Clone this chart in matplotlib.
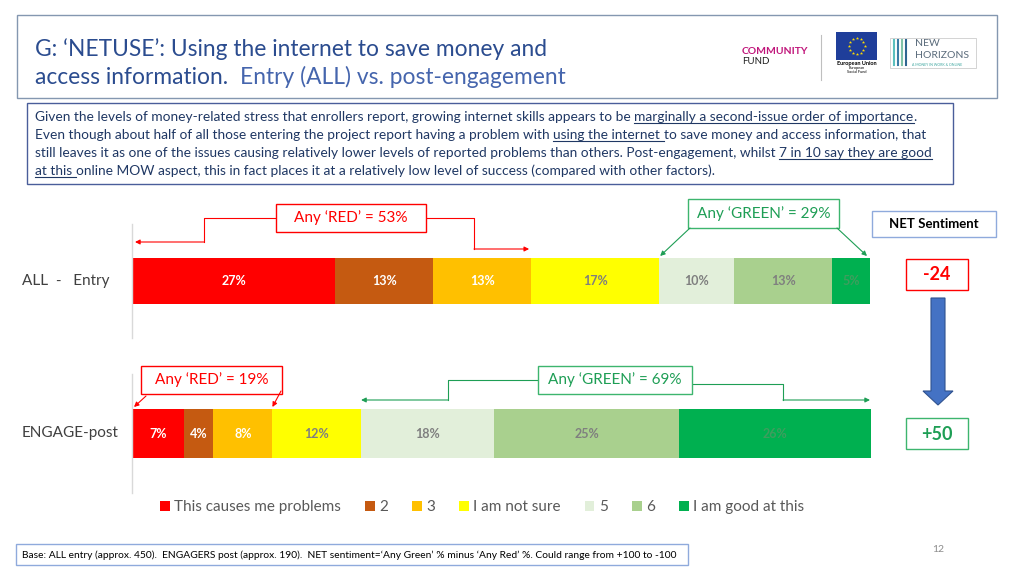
import matplotlib
matplotlib.use('Agg')
import matplotlib.pyplot as plt
from matplotlib.patches import Rectangle, Polygon, Patch
from matplotlib.font_manager import FontProperties
import numpy as np

plt.rcParams['font.family'] = ['Lato', 'DejaVu Sans']

# ---------------- data ----------------
categories = ['This causes me problems', '2', '3', 'I am not sure', '5', '6', 'I am good at this']
seg_colors = ['#FF0000', '#C55A11', '#FFC000', '#FFFF00', '#E2EFDA', '#A9D08E', '#00B050']
label_colors = ['white', 'white', 'white', '#7F7F7F', '#7F7F7F', '#7F7F7F', '#3E9E5E']
row_labels = ['ALL  -   Entry', 'ENGAGE-post']
all_entry = [27, 13, 13, 17, 10, 13, 5]
engage_post = [7, 4, 8, 12, 18, 25, 26]
any_red = [53, 19]
any_green = [29, 69]
net_sentiment = [-24, 50]

W, H = 1024, 576
fig = plt.figure(figsize=(W / 100, H / 100), dpi=100)


def add_ax(x0, y0, x1, y1):
    return fig.add_axes([x0 / W, 1 - y1 / H, (x1 - x0) / W, (y1 - y0) / H])


# ---------------- bars ----------------
bar_boxes = [(132, 224, 870, 338), (132, 374, 871, 493)]
bar_heights = [46 / 114, 49 / 119]
bar_axes = []
for bx, vals, bh in zip(bar_boxes, [all_entry, engage_post], bar_heights):
    ax = add_ax(*bx)
    v = np.array(vals, dtype=float)
    frac = v / v.sum()
    left = np.cumsum(frac) - frac
    ax.barh(0.5, frac, left=left, height=bh, color=seg_colors, edgecolor='none')
    for l, f, val, lc in zip(left, frac, vals, label_colors):
        ax.text(l + f / 2, 0.5, f'{val}%', ha='center', va='center', fontsize=9,
                fontweight='bold', color=lc)
    ax.set_xlim(0, 1)
    ax.set_ylim(0, 1)
    for s in ['top', 'right', 'bottom']:
        ax.spines[s].set_visible(False)
    ax.spines['left'].set_color('#D9D9D9')
    ax.spines['left'].set_linewidth(1)
    ax.set_xticks([])
    ax.set_yticks([])
    bar_axes.append((ax, bx, left, frac))


def px(row, f):
    bx = bar_axes[row][1]
    return bx[0] + f * (bx[2] - bx[0])


# ---------------- overlay ----------------
ov = fig.add_axes([0, 0, 1, 1])
ov.set_xlim(0, W)
ov.set_ylim(H, 0)
ov.axis('off')
renderer = fig.canvas.get_renderer()


def tw(s, fp):
    if not s:
        return 0.0
    w1 = renderer.get_text_width_height_descent('|' + s + '|', fp, False)[0]
    w0 = renderer.get_text_width_height_descent('||', fp, False)[0]
    return w1 - w0


def rich(x, y, segs, color, size, weight='normal'):
    for seg in segs:
        text = seg[0]
        ul = seg[1] if len(seg) > 1 else False
        w = seg[2] if len(seg) > 2 else weight
        c = seg[3] if len(seg) > 3 else color
        fp = FontProperties(family=['Lato', 'DejaVu Sans'], size=size, weight=w)
        lead = text[:len(text) - len(text.lstrip())]
        core = text.strip()
        xs = x + tw(lead, fp)
        ov.text(xs, y, core, fontproperties=fp, color=c, va='baseline', ha='left')
        if ul:
            end = xs + (tw(text[len(lead):], fp) if ul == 'full' else tw(core, fp))
            ov.plot([xs, end], [y + 2.3, y + 2.3], color=c, lw=0.8)
        x += tw(text, fp)


def box(x, y, w, h, ec, lw=1.0, fc='white', z=3):
    ov.add_patch(Rectangle((x, y), w, h, facecolor=fc, edgecolor=ec, lw=lw, zorder=z))


# title box
box(17, 15, 980, 83, '#8497B0', z=1)
title_col = '#2B4C8F'
rich(35, 56, [('G: ‘NETUSE’: Using the internet to save money and',)], title_col, 16.4)
rich(35, 84, [('access information.',), ('  Entry (ALL) vs. post-engagement', False, 'normal', '#4565AD')],
     title_col, 16.4)

# logos (approximate)
ov.text(742, 52, 'COMMUNITY', fontsize=7.5, fontweight='bold', color='#C0157A', va='center')
ov.text(742, 62, 'FUND', fontsize=7, color='#222222', va='center')
ov.plot([821, 821], [35, 80], color='#BFBFBF', lw=0.8)
ov.add_patch(Rectangle((836, 32), 41, 28, facecolor='#1F3E9A', edgecolor='none'))
ang = np.linspace(0, 2 * np.pi, 13)[:-1]
ov.scatter(856.5 + 8 * np.cos(ang), 46 + 8 * np.sin(ang), marker='*', s=6, color='#FFDD00',
           zorder=4, linewidths=0)
ov.text(856.5, 64, 'European Union', fontsize=4, fontweight='bold', ha='center', va='center')
ov.text(856.5, 70, 'European\nSocial Fund', fontsize=2.8, ha='center', va='center',
        linespacing=0.9)
ov.add_patch(Rectangle((890, 38), 86, 30, facecolor='white', edgecolor='#CCCCCC', lw=0.6))
for i, c in enumerate(['#5BC0BE', '#3A7CA5', '#81C3A8', '#2F6690']):
    ov.plot([894 + i * 4, 894 + i * 4], [40, 65], color=c, lw=1.5)
ov.text(915, 44, 'NEW', fontsize=7.5, color='#5A6B7B', va='center')
ov.text(915, 56, 'HORIZONS', fontsize=7.5, color='#5A6B7B', va='center')
ov.text(912, 65, 'A MONEY IN WORK & ONLINE', fontsize=2.5, color='#3FA7A0', va='center')

# summary box
box(27, 103, 926, 81, '#4A5E9A', z=1)
sum_col = '#203864'
fs = 9.95
rich(35, 121, [('Given the levels of money-related stress that enrollers report, growing internet skills appears to be ',),
               ('marginally a second-issue order of importance', True), ('.',)], sum_col, fs)
rich(35, 139, [('Even though about half of all those entering the project report having a problem with ',),
               ('using the internet ', 'full'), ('to save money and access information, that',)], sum_col, fs)
rich(35, 157, [('still leaves it as one of the issues causing relatively lower levels of reported problems than others. Post-engagement, whilst ',),
               ('7 in 10 say they are good', True)], sum_col, fs)
rich(35, 175, [('at this ', 'full'),
               ('online MOW aspect, this in fact places it at a relatively low level of success (compared with other factors).',)],
     sum_col, fs)

# row labels
ov.text(22, 281, row_labels[0], fontsize=11, color='#404040', va='center')
ov.text(22, 433, row_labels[1], fontsize=11, color='#404040', va='center')

RED = '#FF0000'
GREEN_EDGE = '#3DB56E'
GREEN_TXT = '#1E9E55'
aprops_r = dict(arrowstyle='-|>', color=RED, lw=0.8, mutation_scale=7, shrinkA=0, shrinkB=0)
aprops_g = dict(arrowstyle='-|>', color=GREEN_TXT, lw=0.8, mutation_scale=7, shrinkA=0, shrinkB=0)


def arrow(p_from, p_to, props):
    ov.annotate('', xy=p_to, xytext=p_from, arrowprops=props, zorder=4)


red_end = [bar_axes[r][2][3] for r in range(2)]     # left of 4th segment = end of red group
green_start = [bar_axes[r][2][4] for r in range(2)]

# ---- top row annotations
box(276, 204, 150, 28, RED)
ov.text(351, 218, f'Any ‘RED’ = {any_red[0]}%', color=RED, fontsize=11, ha='center', va='center', zorder=5)
ov.plot([276, 204, 204], [218, 218, 242], color=RED, lw=0.8)
arrow((204, 242), (px(0, 0) + 3, 242), aprops_r)
ov.plot([426, 474, 474], [218, 218, 249], color=RED, lw=0.8)
arrow((474, 249), (px(0, red_end[0]) - 2, 249), aprops_r)

box(688, 199, 151, 29, GREEN_EDGE)
ov.text(763.5, 213.5, f'Any ‘GREEN’ = {any_green[0]}%', color=GREEN_TXT, fontsize=11, ha='center',
        va='center', zorder=5)
arrow((690, 228), (px(0, green_start[0]) + 1, 256), aprops_g)
arrow((837, 228), (px(0, 1.0) - 3, 256), aprops_g)

# ---- bottom row annotations
box(141, 366, 141, 28, RED)
ov.text(211.5, 380, f'Any ‘RED’ = {any_red[1]}%', color=RED, fontsize=11, ha='center', va='center', zorder=5)
arrow((146, 396), (px(1, 0) + 2, 407), aprops_r)
arrow((281, 391), (px(1, red_end[1]), 407), aprops_r)

box(538, 366, 154, 28, GREEN_EDGE)
ov.text(615, 380, f'Any ‘GREEN’ = {any_green[1]}%', color=GREEN_TXT, fontsize=11, ha='center',
        va='center', zorder=5)
ov.plot([538, 448, 448], [380, 380, 400], color=GREEN_TXT, lw=0.8)
arrow((448, 400), (px(1, green_start[1]), 400), aprops_g)
ov.plot([692, 783, 783], [384, 384, 400], color=GREEN_TXT, lw=0.8)
arrow((783, 400), (px(1, 1.0) - 1, 400), aprops_g)

# ---- NET sentiment
box(872, 211, 124, 26, '#8FAADC')
ov.text(934, 224.5, 'NET Sentiment', fontsize=9.5, fontweight='bold', color='black', ha='center',
        va='center', zorder=5)
box(906, 259, 62, 31, RED)
ov.text(937, 274, f'{net_sentiment[0]:+d}', fontsize=13, fontweight='bold',
        color=RED, ha='center', va='center', zorder=5)
box(906, 418, 62, 31, GREEN_EDGE)
ov.text(937, 434, f'{net_sentiment[1]:+d}', fontsize=13, fontweight='bold',
        color=GREEN_TXT, ha='center', va='center', zorder=5)
ov.add_patch(Polygon([(931, 298), (945, 298), (945, 391), (953, 391), (938, 405), (923, 391), (931, 391)],
                     closed=True, facecolor='#4472C4', edgecolor='#2F528F', lw=0.8, zorder=3))

# ---- legend
handles = [Patch(facecolor=c, edgecolor='none', label=l) for c, l in zip(seg_colors, categories)]
fig.legend(handles=handles, loc='center', bbox_to_anchor=(482 / W, 1 - 507 / H), ncol=7,
           frameon=False, handlelength=0.65, handleheight=0.65, handletextpad=0.3,
           columnspacing=1.55, fontsize=11, labelcolor='#595959')

# ---- footer
box(16, 544, 672, 21, '#8FAADC', z=1)
ov.text(22, 555, 'Base: ALL entry (approx. 450).  ENGAGERS post (approx. 190).  NET sentiment=‘Any Green’ % minus ‘Any Red’ %. Could range from +100 to -100',
        fontsize=7.4, color='black', va='center', zorder=5)
ov.text(938, 549, '12', fontsize=7.5, color='#8C8C8C', ha='center', va='center')

fig.savefig('out.png', dpi=100)
